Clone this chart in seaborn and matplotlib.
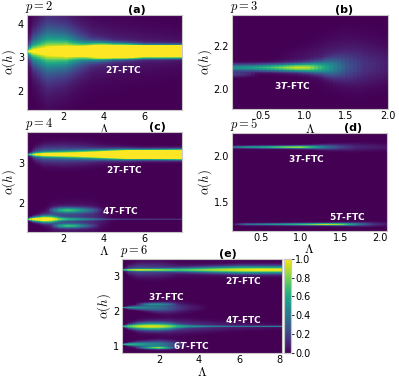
import numpy as np
import pandas as pd
import matplotlib
matplotlib.use("Agg")
import matplotlib.pyplot as plt
import seaborn as sns

sns.set_style("white")
plt.rcParams["font.family"] = ["DejaVu Sans"]
plt.rcParams["text.color"] = "black"
plt.rcParams["axes.labelcolor"] = "black"
plt.rcParams["xtick.color"] = "black"
plt.rcParams["ytick.color"] = "black"

# each band: (alpha centre, Lambda knots, peak knots, width knots, profile)
# profile "g" = gaussian, "e" = exponential (cusp-like)

# ---------------- panel (a): p = 2 ----------------
a_lam_range = [0.2, 7.85]
a_alpha_range = [1.42, 4.28]
a_xticks = [2, 4, 6]
a_yticks = [2, 3, 4]
a_2t_wedge = (3.18,
              [0.2, 0.45, 1.2, 2.15, 3.0, 3.5, 4.5, 6.0, 7.85],
              [1.0, 1.15, 1.25, 1.4, 0.9, 0.5, 0.2, 0.12, 0.1],
              [0.04, 0.25, 0.45, 0.35, 0.25, 0.2, 0.2, 0.2, 0.2], "e")
a_2t_core = (3.18,
             [0.2, 2.0, 3.0, 3.5, 4.5, 6.0, 7.85],
             [0.0, 0.0, 0.8, 1.5, 3.0, 6.0, 8.0],
             [0.12, 0.12, 0.14, 0.15, 0.12, 0.09, 0.085], "g")
a_2t_halo = (3.2,
             [0.2, 1.0, 2.0, 3.0, 4.0, 5.0, 6.0, 7.85],
             [0.0, 0.03, 0.06, 0.08, 0.07, 0.06, 0.05, 0.03],
             [0.10, 0.55, 0.65, 0.60, 0.55, 0.50, 0.45, 0.40], "g")

# ---------------- panel (b): p = 3 ----------------
b_lam_range = [0.13, 2.0]
b_alpha_range = [1.91, 2.34]
b_xticks = [0.5, 1.0, 1.5, 2.0]
b_yticks = [2.0, 2.2]
b_3t = (2.1,
        [0.13, 0.4, 0.7, 0.9, 1.05, 1.2, 1.35, 1.5, 1.7, 2.0],
        [0.50, 0.58, 0.78, 0.90, 0.85, 0.60, 0.38, 0.18, 0.08, 0.04],
        [0.011, 0.011, 0.012, 0.013, 0.015, 0.020, 0.030, 0.040, 0.050, 0.050], "g")
b_3t_halo = (2.13,
             [0.6, 1.0, 1.3, 1.5, 1.7, 2.0],
             [0.0, 0.05, 0.09, 0.09, 0.07, 0.04],
             [0.02, 0.04, 0.06, 0.07, 0.07, 0.06], "g")
b_3t_low = (2.07, [0.13, 0.3, 0.45], [0.18, 0.12, 0.0], [0.008, 0.008, 0.008], "g")

# ---------------- panel (c): p = 4 ----------------
c_lam_range = [0.2, 7.85]
c_alpha_range = [1.25, 3.8]
c_xticks = [2, 4, 6]
c_yticks = [2, 3]
c_2t = (3.22,
        [0.2, 0.6, 1.0, 2.0, 3.0, 4.0, 5.0, 6.0, 7.85],
        [0.55, 0.70, 0.75, 0.85, 1.0, 1.5, 2.6, 3.5, 4.5],
        [0.015, 0.035, 0.045, 0.055, 0.065, 0.07, 0.07, 0.065, 0.065], "g")
c_2t_halo = (3.22,
             [0.2, 0.6, 1.0, 2.0, 3.0, 4.0, 5.0, 6.0, 7.85],
             [0.0, 0.30, 0.35, 0.32, 0.28, 0.20, 0.10, 0.05, 0.03],
             [0.02, 0.10, 0.14, 0.16, 0.15, 0.13, 0.12, 0.10, 0.10], "g")
c_4t = (1.57,
        [0.2, 0.5, 1.0, 1.4, 1.8, 2.2, 2.8, 3.5, 4.0, 5.0, 7.85],
        [0.8, 1.05, 1.1, 0.9, 0.6, 0.45, 0.35, 0.25, 0.2, 0.18, 0.15],
        [0.015, 0.04, 0.06, 0.06, 0.04, 0.03, 0.025, 0.02, 0.015, 0.012, 0.012], "g")
c_4t_up = (1.8,
           [1.2, 1.8, 2.2, 2.8, 3.4, 4.0],
           [0.0, 0.50, 0.60, 0.45, 0.25, 0.0],
           [0.04, 0.05, 0.05, 0.05, 0.05, 0.04], "g")
c_4t_low = (1.4,
            [1.4, 1.8, 2.2, 2.6, 3.2, 3.8],
            [0.0, 0.45, 0.60, 0.50, 0.20, 0.0],
            [0.03, 0.04, 0.04, 0.04, 0.04, 0.03], "g")
c_4t_halo = (1.6,
             [0.5, 1.5, 2.5, 3.5, 4.5],
             [0.0, 0.20, 0.20, 0.12, 0.0],
             [0.05, 0.18, 0.20, 0.20, 0.10], "g")

# ---------------- panel (d): p = 5 ----------------
d_lam_range = [0.13, 2.09]
d_alpha_range = [1.18, 2.255]
d_xticks = [0.5, 1.0, 1.5, 2.0]
d_yticks = [1.5, 2.0]
d_3t = (2.1,
        [0.13, 0.3, 0.5, 0.8, 1.0, 1.15, 1.3, 1.5, 1.7, 2.09],
        [0.35, 0.55, 0.60, 0.85, 0.90, 0.65, 0.40, 0.20, 0.10, 0.05],
        [0.009, 0.009, 0.010, 0.010, 0.011, 0.013, 0.017, 0.022, 0.026, 0.026], "g")
d_5t = (1.256,
        [0.13, 0.3, 0.6, 1.0, 1.3, 1.5, 1.6, 1.75, 1.9, 2.09],
        [0.0, 0.35, 0.50, 0.70, 0.95, 0.85, 0.65, 0.35, 0.15, 0.06],
        [0.008, 0.008, 0.008, 0.009, 0.009, 0.010, 0.011, 0.013, 0.015, 0.015], "g")

# ---------------- panel (e): p = 6 ----------------
e_lam_range = [0.15, 8.15]
e_alpha_range = [0.82, 3.48]
e_xticks = [2, 4, 6, 8]
e_yticks = [1, 2, 3]
e_2t = (3.17,
        [0.15, 0.5, 1.0, 2.0, 3.0, 4.0, 5.0, 6.0, 7.0, 8.15],
        [0.6, 0.65, 0.7, 0.65, 0.6, 0.7, 0.8, 0.9, 0.95, 0.95],
        [0.015, 0.02, 0.025, 0.03, 0.04, 0.05, 0.06, 0.07, 0.07, 0.07], "g")
e_2t_halo = (3.17,
             [0.15, 0.5, 1.0, 2.0, 3.0, 4.5, 6.0, 8.15],
             [0.0, 0.22, 0.25, 0.20, 0.12, 0.10, 0.05, 0.03],
             [0.02, 0.08, 0.12, 0.13, 0.10, 0.10, 0.12, 0.12], "g")
e_3t = (2.1,
        [0.15, 0.5, 1.0, 1.5, 2.0, 2.5, 3.0, 3.5, 4.5],
        [0.50, 0.55, 0.50, 0.42, 0.38, 0.28, 0.16, 0.08, 0.0],
        [0.01, 0.025, 0.04, 0.06, 0.08, 0.09, 0.09, 0.08, 0.05], "g")
e_3t_up = (2.2, [0.8, 1.5, 2.0, 2.5, 3.0], [0.0, 0.40, 0.35, 0.22, 0.0],
           [0.025, 0.025, 0.025, 0.025, 0.025], "g")
e_4t = (1.57,
        [0.15, 0.5, 1.0, 1.5, 2.0, 2.5, 3.0, 3.5, 4.5, 6.0, 8.15],
        [0.6, 0.7, 0.72, 0.75, 0.72, 0.6, 0.42, 0.35, 0.32, 0.33, 0.38],
        [0.012, 0.04, 0.06, 0.07, 0.07, 0.06, 0.04, 0.025, 0.015, 0.012, 0.012], "g")
e_4t_halo = (1.57,
             [0.3, 1.0, 2.5, 4.0, 5.5, 8.15],
             [0.0, 0.18, 0.22, 0.15, 0.08, 0.04],
             [0.05, 0.10, 0.12, 0.10, 0.08, 0.05], "g")
e_6t = (1.06,
        [0.15, 0.5, 1.0, 1.5, 2.0, 2.5, 3.0, 3.5],
        [0.6, 0.65, 0.58, 0.5, 0.45, 0.3, 0.15, 0.0],
        [0.01, 0.03, 0.05, 0.06, 0.07, 0.07, 0.06, 0.05], "g")
e_6t_low = (0.96, [0.8, 1.5, 2.0, 2.4, 3.0], [0.0, 0.55, 0.75, 0.5, 0.0],
            [0.02, 0.025, 0.025, 0.025, 0.02], "g")


def density(lam_rng, alpha_rng, bands, nx, ny):
    dx = (lam_rng[1] - lam_rng[0]) / nx
    dy = (alpha_rng[1] - alpha_rng[0]) / ny
    lam = lam_rng[0] + (np.arange(nx) + 0.5) * dx
    alpha = alpha_rng[1] - (np.arange(ny) + 0.5) * dy  # top row first
    z = np.zeros((ny, nx))
    for c, kl, ka, kw, shape in bands:
        amp = np.interp(lam, kl, ka)[None, :]
        wid = np.interp(lam, kl, kw)[None, :]
        d = alpha[:, None] - c
        if shape == "e":
            z += amp * np.exp(-np.abs(d) / wid)
        else:
            z += amp * np.exp(-0.5 * (d / wid) ** 2)
    return pd.DataFrame(z)


def draw(ax, z, lam_rng, alpha_rng, xticks, yticks, xfmt, yfmt, cax=None, xpad=1):
    sns.heatmap(z, ax=ax, cmap="viridis", vmin=0, vmax=1,
                cbar=cax is not None, cbar_ax=cax,
                xticklabels=False, yticklabels=False, rasterized=True)
    ny, nx = z.shape
    ax.set_xticks([(v - lam_rng[0]) / (lam_rng[1] - lam_rng[0]) * nx for v in xticks])
    ax.set_xticklabels([xfmt.format(v) for v in xticks], rotation=0)
    ax.set_yticks([(alpha_rng[1] - v) / (alpha_rng[1] - alpha_rng[0]) * ny for v in yticks])
    ax.set_yticklabels([yfmt.format(v) for v in yticks], rotation=0)
    ax.tick_params(labelsize=7, length=0)
    ax.tick_params(axis="x", pad=1.5)
    ax.tick_params(axis="y", pad=2)
    for s in ax.spines.values():
        s.set_visible(True)
        s.set_color("0.78")
        s.set_linewidth(0.8)
    ax.set_xlabel(r"$\Lambda$", math_fontfamily="cm", fontsize=9, labelpad=xpad)
    ax.set_ylabel(r"$\alpha(h)$", math_fontfamily="cm", fontsize=9, labelpad=0)


def titles(ax, p, tag, tag_x):
    ax.text(-0.012, 1.0, r"$p=%d$" % p, transform=ax.transAxes, ha="left", va="bottom",
            math_fontfamily="cm", fontsize=9)
    ax.text(tag_x, 1.0, tag, transform=ax.transAxes, ha="center", va="bottom",
            fontsize=8, fontweight="bold")


def label(ax, x, y, n):
    ax.text(x, y, r"%d$\mathbfit{T}$-FTC" % n, transform=ax.transAxes, ha="center",
            va="center", color="white", fontsize=6.5, fontweight="bold")


fig = plt.figure(figsize=(3.99, 3.79), dpi=100)

ax_a = fig.add_axes([0.067, 0.710, 0.389, 0.251])
ax_b = fig.add_axes([0.581, 0.712, 0.391, 0.248])
ax_c = fig.add_axes([0.068, 0.388, 0.388, 0.264])
ax_d = fig.add_axes([0.581, 0.390, 0.390, 0.259])
ax_e = fig.add_axes([0.306, 0.069, 0.401, 0.248])
cax = fig.add_axes([0.712, 0.069, 0.0175, 0.248])

z_a = density(a_lam_range, a_alpha_range, [a_2t_wedge, a_2t_core, a_2t_halo], 120, 150)
draw(ax_a, z_a, a_lam_range, a_alpha_range, a_xticks, a_yticks, "{:d}", "{:d}")
titles(ax_a, 2, "(a)", 0.71)
label(ax_a, 0.62, 0.42, 2)

z_b = density(b_lam_range, b_alpha_range, [b_3t, b_3t_halo, b_3t_low], 40, 150)
draw(ax_b, z_b, b_lam_range, b_alpha_range, b_xticks, b_yticks, "{:.1f}", "{:.1f}")
titles(ax_b, 3, "(b)", 0.72)
label(ax_b, 0.39, 0.255, 3)

z_c = density(c_lam_range, c_alpha_range,
              [c_2t, c_2t_halo, c_4t, c_4t_up, c_4t_low, c_4t_halo], 100, 200)
draw(ax_c, z_c, c_lam_range, c_alpha_range, c_xticks, c_yticks, "{:d}", "{:d}")
titles(ax_c, 4, "(c)", 0.84)
label(ax_c, 0.63, 0.62, 2)
label(ax_c, 0.60, 0.21, 4)

z_d = density(d_lam_range, d_alpha_range, [d_3t, d_5t], 50, 300)
draw(ax_d, z_d, d_lam_range, d_alpha_range, d_xticks, d_yticks, "{:.1f}", "{:.1f}", xpad=0)
titles(ax_d, 5, "(d)", 0.78)
label(ax_d, 0.48, 0.74, 3)
label(ax_d, 0.74, 0.15, 5)

z_e = density(e_lam_range, e_alpha_range,
              [e_2t, e_2t_halo, e_3t, e_3t_up, e_4t, e_4t_halo, e_6t, e_6t_low], 100, 250)
draw(ax_e, z_e, e_lam_range, e_alpha_range, e_xticks, e_yticks, "{:d}", "{:d}", cax=cax)
titles(ax_e, 6, "(e)", 0.66)
label(ax_e, 0.76, 0.77, 2)
label(ax_e, 0.275, 0.60, 3)
label(ax_e, 0.76, 0.35, 4)
label(ax_e, 0.43, 0.075, 6)

cax.set_yticks([0.0, 0.2, 0.4, 0.6, 0.8, 1.0])
cax.set_yticklabels(["0.0", "0.2", "0.4", "0.6", "0.8", "1.0"])
cax.tick_params(labelsize=7, length=2, width=0.6, pad=1, right=True)
for s in cax.spines.values():
    s.set_visible(True)
    s.set_color("0.78")
    s.set_linewidth(0.8)

fig.savefig("out.png", dpi=100)
